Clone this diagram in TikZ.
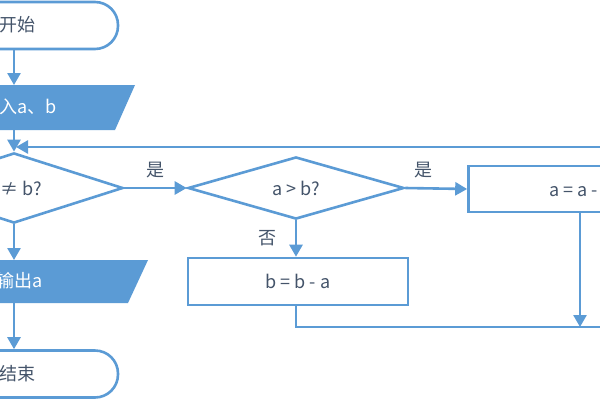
\documentclass[tikz,border=0pt]{standalone}
\usepackage{fontspec}
\setmainfont{Noto Sans CJK SC}
\usetikzlibrary{arrows.meta,shapes.geometric}
\definecolor{lineblue}{RGB}{91,155,213}
\definecolor{txt}{RGB}{68,84,106}
\tikzset{
  flow/.style={draw=lineblue,line width=2.6pt},
  arr/.style={flow,-{Triangle[length=12pt,width=13pt]}},
  txtstyle/.style={text=txt,font=\fontsize{18}{21}\selectfont,inner sep=0pt},
  whitetxt/.style={text=white,font=\fontsize{18}{21}\selectfont,inner sep=0pt},
  term/.style={flow,fill=white,rectangle,rounded corners=23pt,minimum width=208pt,minimum height=47pt,inner sep=0pt},
  dia/.style={flow,fill=white,diamond,inner sep=0pt,txtstyle},
  procbox/.style={flow,fill=white,rectangle,inner sep=0pt,txtstyle},
  lbl/.style={txtstyle}
}
\begin{document}
\begin{tikzpicture}[x=1pt,y=-1pt]
\useasboundingbox (0,0) rectangle (600,400);
\clip (0,0) rectangle (600,400);
\fill[white] (0,0) rectangle (600,400);
% start
\node[term] (start) at (14,25.5) {};
\node[txtstyle,anchor=east] (starttxt) at (36,25) {开始};
% input
\fill[lineblue] (-100,130) -- (-80,85) -- (135,85) -- (115,130) -- cycle;
\coordinate (intop) at (14,85);
\coordinate (inbot) at (14,130);
\node[whitetxt,anchor=east] (intxt) at (57,107) {输入a、b};
% decision 1
\node[dia,minimum width=218pt,minimum height=46pt] (d1) at (14,188) {a ≠ b?};
% decision 2
\node[dia,minimum width=216pt,minimum height=46pt] (d2) at (296,188) {a > b?};
% boxes
\node[procbox,minimum width=225pt,minimum height=46pt] (r1) at (581,189) {a = a - b};
\node[procbox,minimum width=220pt,minimum height=47pt] (r2) at (298,281.5) {b = b - a};
% output
\fill[lineblue] (-100,303) -- (-80,260) -- (148,260) -- (128,303) -- cycle;
\coordinate (outtop) at (14,260);
\coordinate (outbot) at (14,303);
\node[whitetxt,anchor=east] (outtxt) at (43,281) {输出a};
% end
\node[term] (stop) at (14,374) {};
\node[txtstyle,anchor=east] (stoptxt) at (36,374) {结束};
% connectors
\draw[arr] (start.south) -- (intop);
\draw[arr] (inbot) -- (d1.north);
\draw[arr] (d1.south) -- (outtop);
\draw[arr] (outbot) -- (stop.north);
\draw[arr] (d1.east) -- node[lbl,above=9pt] (yes1) {是} (d2.west);
\draw[arr] (d2.east) -- node[lbl,above=9pt,pos=0.3] (yes2) {是} (r1.west);
\draw[arr] (d2.south) -- node[lbl,left=18pt] (no1) {否} (r2.north -| d2.south);
\coordinate (loopbot) at (640,327);
\coordinate (looptop) at (640,147);
\coordinate (merge) at (14,147);
\draw[arr] (r1.south -| 580,0) -- (580,327);
\draw[arr] (r2.south -| d2.south) -- (d2.south |- loopbot) -- (loopbot) -- (looptop) -- ([xshift=2pt]merge);
\end{tikzpicture}
\end{document}
